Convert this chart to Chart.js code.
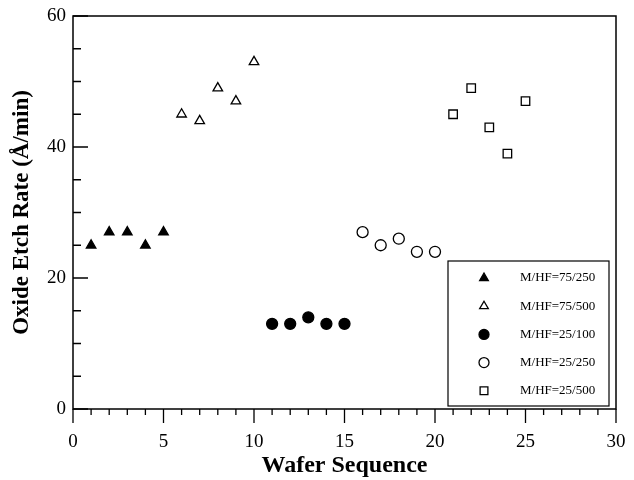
<!DOCTYPE html>
<html>
<head>
<meta charset="utf-8">
<script src="https://cdn.jsdelivr.net/npm/chart.js@4.4.1/dist/chart.umd.min.js"></script>
<style>
  html, body { margin: 0; padding: 0; background: #fff; }
</style>
</head>
<body>
<canvas id="myChart" width="634" height="480"></canvas>
<script>
// data
const seriesNames = ["M/HF=75/250", "M/HF=75/500", "M/HF=25/100", "M/HF=25/250", "M/HF=25/500"];
const wafers75_250 = [1, 2, 3, 4, 5];
const rate75_250 = [25, 27, 27, 25, 27];
const wafers75_500 = [6, 7, 8, 9, 10];
const rate75_500 = [45, 44, 49, 47, 53];
const wafers25_100 = [11, 12, 13, 14, 15];
const rate25_100 = [13, 13, 14, 13, 13];
const wafers25_250 = [16, 17, 18, 19, 20];
const rate25_250 = [27, 25, 26, 24, 24];
const wafers25_500 = [21, 22, 23, 24, 25];
const rate25_500 = [45, 49, 43, 39, 47];

const xTicks = [0, 5, 10, 15, 20, 25, 30];
const yTicks = [0, 20, 40, 60];

const serif = "'Liberation Serif', 'Times New Roman', serif";

function toPoints(xs, ys) {
    return xs.map((x, i) => ({ x: x, y: ys[i] }));
}

const markers = [
    { pointStyle: "triangle", radius: 5.5, fill: "#000" },
    { pointStyle: "triangle", radius: 5.5, fill: "#fff" },
    { pointStyle: "circle", radius: 5.5, fill: "#000" },
    { pointStyle: "circle", radius: 5.5, fill: "#fff" },
    { pointStyle: "rect", radius: 6, fill: "#fff" }
];

const allData = [
    toPoints(wafers75_250, rate75_250),
    toPoints(wafers75_500, rate75_500),
    toPoints(wafers25_100, rate25_100),
    toPoints(wafers25_250, rate25_250),
    toPoints(wafers25_500, rate25_500)
];

const datasets = allData.map((pts, i) => ({
    label: seriesNames[i],
    data: pts,
    showLine: false,
    pointStyle: markers[i].pointStyle,
    pointRadius: markers[i].radius,
    pointBackgroundColor: markers[i].fill,
    pointBorderColor: "#000",
    pointBorderWidth: 1.3
}));

// frame, inward y ticks, outward x ticks, boxed legend
const framePlugin = {
    id: "frameAndLegend",
    afterDraw(chart) {
        const ctx = chart.ctx;
        const area = chart.chartArea;
        const xs = chart.scales.x;
        const ys = chart.scales.y;
        ctx.save();
        ctx.strokeStyle = "#000";
        ctx.lineWidth = 1.5;
        ctx.strokeRect(area.left, area.top, area.right - area.left, area.bottom - area.top);

        ctx.lineWidth = 1.3;
        ctx.beginPath();
        for (let v = 0; v <= 60; v += 5) {
            const py = ys.getPixelForValue(v);
            const len = v % 20 === 0 ? 15 : 8;
            ctx.moveTo(area.left, py);
            ctx.lineTo(area.left + len, py);
        }
        for (let v = 0; v <= 30; v += 1) {
            const px = xs.getPixelForValue(v);
            const len = v % 5 === 0 ? 14 : 6;
            ctx.moveTo(px, area.bottom);
            ctx.lineTo(px, area.bottom + len);
        }
        ctx.stroke();

        // legend box
        const boxW = 161, boxH = 145;
        const bx = area.right - 7 - boxW;
        const by = area.bottom - 3 - boxH;
        ctx.fillStyle = "#fff";
        ctx.fillRect(bx, by, boxW, boxH);
        ctx.lineWidth = 1.2;
        ctx.strokeRect(bx, by, boxW, boxH);

        ctx.font = "13px " + serif;
        ctx.textBaseline = "middle";
        ctx.textAlign = "left";
        seriesNames.forEach((name, i) => {
            const ly = by + 17 + i * 28.2;
            ctx.fillStyle = markers[i].fill;
            ctx.strokeStyle = "#000";
            ctx.lineWidth = 1.3;
            Chart.helpers.drawPoint(ctx, {
                pointStyle: markers[i].pointStyle,
                radius: markers[i].radius - 0.5,
                borderWidth: 1.3,
                rotation: 0
            }, bx + 36, ly);
            ctx.fillStyle = "#000";
            ctx.fillText(name, bx + 72, ly);
        });
        ctx.restore();
    }
};

const ctx = document.getElementById("myChart");
const chart = new Chart(ctx, {
    type: "scatter",
    data: { datasets: datasets },
    options: {
        responsive: false,
        animation: false,
        layout: { padding: { top: 16, right: 18, left: 0, bottom: 0 } },
        plugins: {
            legend: { display: false },
            tooltip: { enabled: false }
        },
        scales: {
            x: {
                type: "linear",
                min: 0,
                max: 30,
                afterBuildTicks: (scale) => { scale.ticks = xTicks.map(v => ({ value: v })); },
                afterFit: (scale) => {
                    scale.height = 71;
                    scale.paddingLeft = 0;
                    scale.paddingRight = 0;
                },
                grid: { display: false, drawTicks: false },
                border: { display: false },
                ticks: {
                    color: "#000",
                    font: { family: serif, size: 19 },
                    padding: 22,
                    maxRotation: 0
                },
                title: {
                    display: true,
                    text: "Wafer Sequence",
                    color: "#000",
                    font: { family: serif, size: 24, weight: "bold" },
                    padding: { top: 0, bottom: 0 }
                }
            },
            y: {
                type: "linear",
                min: 0,
                max: 60,
                afterBuildTicks: (scale) => { scale.ticks = yTicks.map(v => ({ value: v })); },
                afterFit: (scale) => {
                    scale.width = 73;
                    scale.paddingTop = 0;
                    scale.paddingBottom = 0;
                },
                grid: { display: false, drawTicks: false },
                border: { display: false },
                ticks: {
                    color: "#000",
                    font: { family: serif, size: 19 },
                    padding: 7
                },
                title: {
                    display: true,
                    text: "Oxide Etch Rate (Å/min)",
                    color: "#000",
                    font: { family: serif, size: 23, weight: "bold" },
                    padding: { top: 8, bottom: 0 }
                }
            }
        }
    },
    plugins: [framePlugin]
});
</script>
</body>
</html>
